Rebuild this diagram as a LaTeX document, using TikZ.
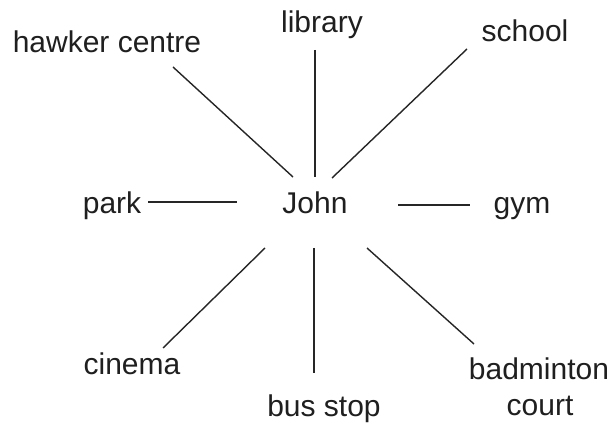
\documentclass[tikz,border=0pt]{standalone}
\usepackage{fontspec}
\setmainfont{Liberation Sans}
\begin{document}
\begin{tikzpicture}[x=1pt,y=-1pt,
  lbl/.style={anchor=base,inner sep=0pt,text=black!88,font=\fontsize{30}{34}\selectfont},
  link/.style={line width=1.4pt,draw=black!85}]
\useasboundingbox (0,0) rectangle (613,427);
\fill[white] (0,0) rectangle (613,427);
% nodes
\node[lbl] (john) at (315,214) {John};
\node[lbl] (hawker) at (107,53) {hawker centre};
\node[lbl] (library) at (322,33) {library};
\node[lbl] (school) at (525,42) {school};
\node[lbl] (park) at (112,214) {park};
\node[lbl] (gym) at (522,214) {gym};
\node[lbl] (cinema) at (132,375) {cinema};
\node[lbl] (busstop) at (324,417) {bus stop};
\node[lbl,align=center] (badminton) at (539,380) {badminton};
\node[lbl] (court) at (540,415) {court};
% connector end points
\coordinate (h1) at (173,67);   \coordinate (h2) at (293,177);
\coordinate (l1) at (315,50);   \coordinate (l2) at (315,177);
\coordinate (s1) at (467,49);   \coordinate (s2) at (332,178);
\coordinate (p1) at (148,202);  \coordinate (p2) at (237,202);
\coordinate (g1) at (398,205);  \coordinate (g2) at (470,205);
\coordinate (c1) at (265,248);  \coordinate (c2) at (163,348);
\coordinate (b1) at (314,248);  \coordinate (b2) at (314,373);
\coordinate (d1) at (367,248);  \coordinate (d2) at (474,344);
% connectors
\draw[link] (h1) -- (h2);
\draw[link] (l1) -- (l2);
\draw[link] (s1) -- (s2);
\draw[link] (p1) -- (p2);
\draw[link] (g1) -- (g2);
\draw[link] (c1) -- (c2);
\draw[link] (b1) -- (b2);
\draw[link] (d1) -- (d2);
\end{tikzpicture}
\end{document}
